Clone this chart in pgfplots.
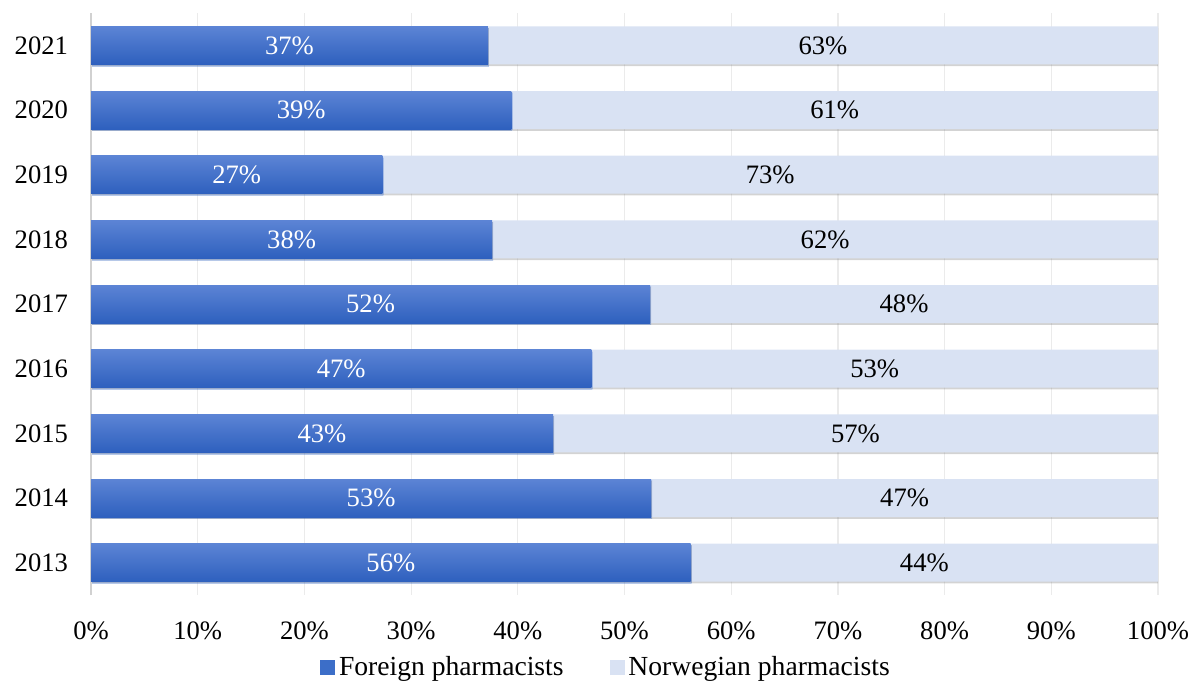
\documentclass[border=0pt]{standalone}
\usepackage{fontspec}
\setmainfont{Liberation Serif}
\usepackage{pgfplots}
\pgfplotsset{compat=1.18}
\usetikzlibrary{shadows}
\definecolor{fortop}{RGB}{92,132,213}
\definecolor{forbot}{RGB}{46,96,190}
\definecolor{forleg}{RGB}{60,110,200}
\definecolor{nor}{RGB}{217,226,243}
\begin{document}
\begin{tikzpicture}
\pgfplotsset{
  common/.style={
    scale only axis, width=533.5pt, height=291pt,
    at={(45.5pt,44.5pt)}, anchor=south west,
    xmin=0, xmax=100, ymin=-0.5, ymax=8.5,
  },
  fb/.style={xbar, bar width=19pt, bar shift=0pt, draw=none,
    top color=fortop, bottom color=forbot,
    drop shadow={shadow xshift=0.5pt, shadow yshift=-0.9pt, opacity=0.35}},
}
\begin{axis}[common,
  xbar stacked, bar width=19pt,
  separate axis lines,
  axis y line*=left, axis x line*=bottom,
  x axis line style={draw=none},
  y axis line style={draw=black!18, line width=0.6pt},
  xmajorgrids, grid style={draw=black!8, line width=0.6pt},
  xtick={0,10,...,100},
  xticklabel={\pgfmathprintnumber{\tick}\%},
  ytick={0,...,8},
  yticklabels={2013,2014,2015,2016,2017,2018,2019,2020,2021},
  tick style={draw=none},
  /pgf/number format/assume math mode=true,
  tick label style={font=\fontsize{13.3}{15}\selectfont},
  xticklabel style={yshift=-10pt},
  yticklabel style={xshift=-8pt},
  legend style={at={(0.4836,-0.125)}, anchor=center, draw=none,
    legend columns=2, font=\fontsize{13.8}{15}\selectfont,
    /tikz/every even column/.append style={column sep=21pt}},
  legend cell align=left,
]
\addlegendimage{legend image code/.code={\fill[forleg] (0pt,-3.5pt) rectangle (7pt,3.5pt);}}
\addlegendentry{Foreign pharmacists}
\addlegendimage{legend image code/.code={\fill[nor] (0pt,-3.5pt) rectangle (7pt,3.5pt);}}
\addlegendentry{Norwegian pharmacists}
% foreign share (drawn shaded in the overlay axis below)
\addplot[draw=none, fill=none, forget plot]
  coordinates {(56.2,0) (52.5,1) (43.3,2) (46.9,3) (52.4,4) (37.6,5) (27.3,6) (39.4,7) (37.2,8)};
\addplot[draw=none, fill=nor, forget plot,
  drop shadow={shadow xshift=0.5pt, shadow yshift=-0.9pt, opacity=0.35}]
  coordinates {(43.8,0) (47.5,1) (56.7,2) (53.1,3) (47.6,4) (62.4,5) (72.7,6) (60.6,7) (62.8,8)};
\end{axis}
\begin{axis}[common, hide axis]
\addplot[fb] coordinates {(56.2,0)};
\addplot[fb] coordinates {(52.5,1)};
\addplot[fb] coordinates {(43.3,2)};
\addplot[fb] coordinates {(46.9,3)};
\addplot[fb] coordinates {(52.4,4)};
\addplot[fb] coordinates {(37.6,5)};
\addplot[fb] coordinates {(27.3,6)};
\addplot[fb] coordinates {(39.4,7)};
\addplot[fb] coordinates {(37.2,8)};
\addplot[only marks, mark=*, mark size=0pt, mark options={draw=none, fill=none},
  nodes near coords, point meta=explicit symbolic,
  nodes near coords style={anchor=center, text=white, font=\fontsize{13.3}{15}\selectfont}]
  table[meta=lab] {
x y lab
28.1 0 56\%
26.25 1 53\%
21.65 2 43\%
23.45 3 47\%
26.2 4 52\%
18.8 5 38\%
13.65 6 27\%
19.7 7 39\%
18.6 8 37\%
};
\addplot[only marks, mark=*, mark size=0pt, mark options={draw=none, fill=none},
  nodes near coords, point meta=explicit symbolic,
  nodes near coords style={anchor=center, text=black, font=\fontsize{13.3}{15}\selectfont}]
  table[meta=lab] {
x y lab
78.1 0 44\%
76.25 1 47\%
71.65 2 57\%
73.45 3 53\%
76.2 4 48\%
68.8 5 62\%
63.65 6 73\%
69.7 7 61\%
68.6 8 63\%
};
\end{axis}
\pgfresetboundingbox
\useasboundingbox (0,0) rectangle (596pt,342pt);
\end{tikzpicture}
\end{document}
